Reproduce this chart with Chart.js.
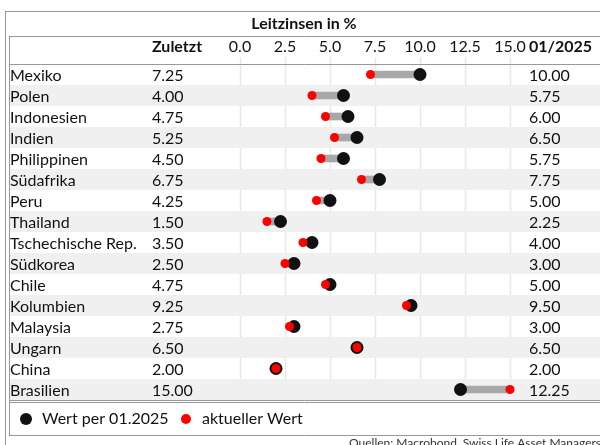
<!DOCTYPE html>
<html>
<head>
<meta charset="utf-8">
<script src="https://cdn.jsdelivr.net/npm/chart.js@4.4.1/dist/chart.umd.min.js"></script>
<style>
    html, body { margin: 0; padding: 0; background: #ffffff; }
</style>
</head>
<body>
<canvas id="rateChart" width="600" height="445"></canvas>
<script>
/* ==========================================
   Leitzinsen in %  -  data
========================================== */

const countries = [
    "Mexiko", "Polen", "Indonesien", "Indien", "Philippinen", "Südafrika",
    "Peru", "Thailand", "Tschechische Rep.", "Südkorea", "Chile",
    "Kolumbien", "Malaysia", "Ungarn", "China", "Brasilien"
];

// "Zuletzt" = aktueller Wert (red)
const currentRates = [7.25, 4.00, 4.75, 5.25, 4.50, 6.75, 4.25, 1.50, 3.50, 2.50, 4.75, 9.25, 2.75, 6.50, 2.00, 15.00];

// "01/2025" = Wert per 01.2025 (black)
const janRates = [10.00, 5.75, 6.00, 6.50, 5.75, 7.75, 5.00, 2.25, 4.00, 3.00, 5.00, 9.50, 3.00, 6.50, 2.00, 12.25];

const tickValues = [0, 2.5, 5, 7.5, 10, 12.5, 15];

const titleText = "Leitzinsen in %";
const sourceText = "Quellen: Macrobond, Swiss Life Asset Managers";

/* ==========================================
   Table layout plugin
========================================== */

const FONT = "Lato, 'Open Sans', sans-serif";
const LINE_COLOR = "#999999";

function hLine(ctx, y, x1, x2) {
    ctx.beginPath();
    ctx.moveTo(x1, y);
    ctx.lineTo(x2, y);
    ctx.stroke();
}

function vLine(ctx, x, y1, y2) {
    ctx.beginPath();
    ctx.moveTo(x, y1);
    ctx.lineTo(x, y2);
    ctx.stroke();
}

const tablePlugin = {

    id: "tableLayout",

    beforeDatasetsDraw(chart) {
        const ctx = chart.ctx;
        const xScale = chart.scales.x;
        const yScale = chart.scales.y;
        const area = chart.chartArea;
        const rowH = (area.bottom - area.top) / countries.length;

        ctx.save();

        // vertical grid
        ctx.strokeStyle = "#e8e8e8";
        ctx.lineWidth = 1.5;
        tickValues.forEach(v => {
            const px = Math.round(xScale.getPixelForValue(v)) + 0.5;
            vLine(ctx, px, 57, area.bottom);
        });

        // shaded rows
        ctx.fillStyle = "#f0f0f0";
        countries.forEach((c, i) => {
            if (i % 2 === 1) {
                const cy = yScale.getPixelForValue(i);
                ctx.fillRect(9, cy - rowH / 2, 600, rowH);
            }
        });

        ctx.restore();
    },

    afterDraw(chart) {
        const ctx = chart.ctx;
        const xScale = chart.scales.x;
        const yScale = chart.scales.y;
        const area = chart.chartArea;

        ctx.save();

        // frame lines
        ctx.strokeStyle = LINE_COLOR;
        ctx.lineWidth = 1;
        hLine(ctx, 11.5, 5, 600);
        vLine(ctx, 5.5, 11, 445);
        hLine(ctx, 36.5, 9, 600);
        vLine(ctx, 9.5, 36, 436);
        hLine(ctx, area.top + 0.5, 9, 600);
        hLine(ctx, area.bottom + 0.5, 9, 600);
        hLine(ctx, area.bottom + 2.5, 9, 600);
        hLine(ctx, 435.5, 9, 600);

        ctx.fillStyle = "#111111";
        ctx.textBaseline = "middle";

        // title
        ctx.font = "bold 16px " + FONT;
        ctx.textAlign = "center";
        ctx.fillText(titleText, 304, 24);

        // header row
        ctx.textAlign = "left";
        ctx.fillText("Zuletzt", 152, 47);
        ctx.fillText("01/2025", 529, 47);

        ctx.font = "16px " + FONT;
        ctx.textAlign = "center";
        tickValues.forEach(v => {
            ctx.fillText(v.toFixed(1), xScale.getPixelForValue(v), 47);
        });

        // rows
        ctx.textAlign = "left";
        countries.forEach((c, i) => {
            const cy = yScale.getPixelForValue(i) + 1;
            ctx.fillText(c, 10, cy);
            ctx.fillText(currentRates[i].toFixed(2), 152, cy);
            ctx.fillText(janRates[i].toFixed(2), 529, cy);
        });

        // legend
        const blackSet = chart.data.datasets[1];
        const redSet = chart.data.datasets[0];
        const ly = 419;

        ctx.fillStyle = blackSet.pointBackgroundColor;
        ctx.beginPath();
        ctx.arc(26, ly, 6, 0, Math.PI * 2);
        ctx.fill();

        ctx.fillStyle = "#111111";
        ctx.fillText(blackSet.label, 42, ly);

        ctx.fillStyle = redSet.pointBackgroundColor;
        ctx.beginPath();
        ctx.arc(186, ly, 5, 0, Math.PI * 2);
        ctx.fill();

        ctx.fillStyle = "#111111";
        ctx.fillText(redSet.label, 202, ly);

        // source
        ctx.font = "12px " + FONT;
        ctx.textAlign = "right";
        ctx.textBaseline = "alphabetic";
        ctx.fillStyle = "#333333";
        ctx.fillText(sourceText, 601, 447);

        ctx.restore();
    }

};

/* ==========================================
   Chart
========================================== */

const chartCanvas = document.getElementById("rateChart");

if (chartCanvas) {

    const ctx = chartCanvas.getContext("2d");

    new Chart(ctx, {

        type: "bar",

        data: {

            labels: countries,

            datasets: [
                {
                    type: "line",
                    label: "aktueller Wert",
                    indexAxis: "y",
                    data: currentRates,
                    showLine: false,
                    clip: false,
                    pointRadius: 4.5,
                    pointBorderWidth: 0,
                    pointBackgroundColor: "#ff0000",
                    order: 0
                },
                {
                    type: "line",
                    label: "Wert per 01.2025",
                    indexAxis: "y",
                    data: janRates,
                    showLine: false,
                    clip: false,
                    pointRadius: 6.5,
                    pointBorderWidth: 0,
                    pointBackgroundColor: "#111111",
                    order: 1
                },
                {
                    type: "bar",
                    label: "Spanne",
                    indexAxis: "y",
                    data: countries.map((c, i) => [currentRates[i], janRates[i]]),
                    backgroundColor: "#a8a8a8",
                    barThickness: 7,
                    borderWidth: 0,
                    clip: false,
                    order: 2
                }
            ]

        },

        options: {

            indexAxis: "y",

            responsive: false,

            animation: false,

            events: [],

            layout: {
                padding: { left: 240, right: 90, top: 64, bottom: 45 }
            },

            plugins: {
                legend: { display: false },
                tooltip: { enabled: false }
            },

            scales: {

                x: {
                    type: "linear",
                    min: 0,
                    max: 15,
                    display: false
                },

                y: {
                    type: "category",
                    offset: true,
                    display: false
                }

            }

        },

        plugins: [tablePlugin]

    });

}
</script>
</body>
</html>
